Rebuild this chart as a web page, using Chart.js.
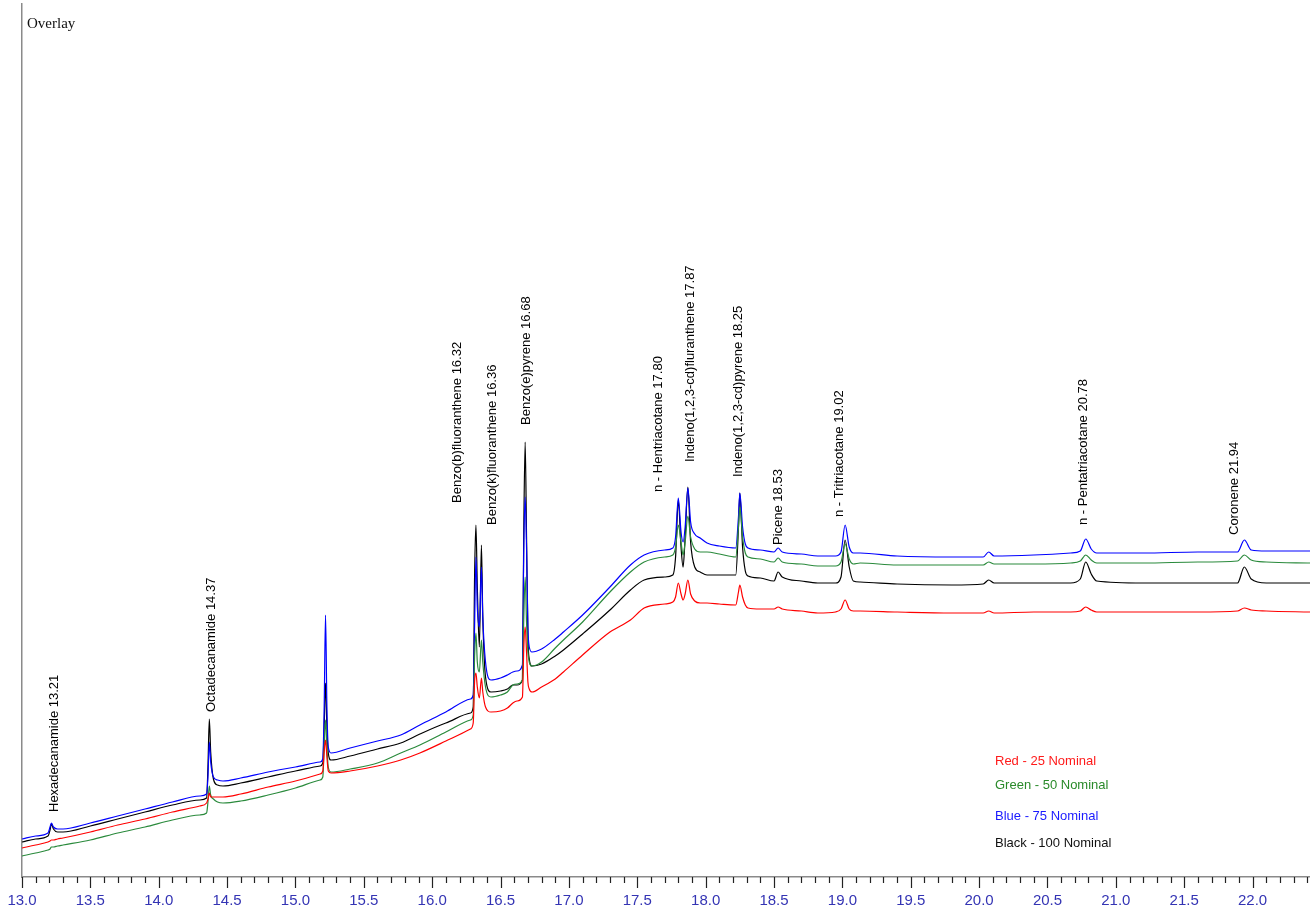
<!DOCTYPE html>
<html>
<head>
<meta charset="utf-8">
<title>Overlay</title>
<script src="https://cdn.jsdelivr.net/npm/chart.js@4.4.1/dist/chart.umd.min.js"></script>
<style>
  html, body { margin: 0; padding: 0; background: #ffffff; }
  canvas { display: block; }
</style>
</head>
<body>
<canvas id="chart" width="1310" height="912"></canvas>
<script>
// Retention time (min) shared by all four traces
const retentionTime = [
  13.00, 13.10, 13.19, 13.205, 13.215, 13.23, 13.26, 13.30,
  13.50, 13.70, 13.90, 14.10, 14.30, 14.35,
  14.36, 14.37, 14.38, 14.40, 14.43, 14.47,
  14.60, 14.80, 15.00, 15.18,
  15.20, 15.21, 15.22, 15.23, 15.24, 15.26,
  15.40, 15.60, 15.77, 15.91, 16.10, 16.28,
  16.30, 16.31, 16.32, 16.33, 16.345, 16.36, 16.37, 16.39, 16.43,
  16.50, 16.55, 16.59, 16.62, 16.66,
  16.67, 16.68, 16.69, 16.70, 16.71, 16.73,
  16.80, 16.90, 16.96, 17.10, 17.30, 17.45, 17.55, 17.70, 17.76,
  17.78, 17.80, 17.82, 17.835, 17.85, 17.87, 17.89, 17.92, 17.96, 18.01,
  18.10, 18.22, 18.24, 18.25, 18.27, 18.29, 18.31,
  18.40, 18.50, 18.53, 18.56, 18.70, 18.82,
  18.95, 18.99, 19.02, 19.05, 19.08, 19.13,
  19.40, 19.80, 20.03, 20.07, 20.11, 20.40,
  20.67, 20.74, 20.78, 20.82, 20.86,
  21.20, 21.60, 21.89, 21.94, 21.99, 22.10, 22.42
];

// Detector response, 25 nominal
const red25 = [
  29, 32, 35, 36, 37, 37, 38, 39,
  45, 52, 58, 65, 71, 74,
  78, 84, 80, 80, 80, 80,
  83, 90, 96, 103,
  106, 125, 137, 120, 106, 104,
  106, 111, 117, 124, 136, 148,
  154, 195, 204, 190, 179, 199, 185, 170, 165,
  166, 169, 174, 176, 180,
  230, 250, 225, 195, 188, 185,
  190, 198, 205, 222, 245, 257, 269, 273, 275,
  280, 294, 283, 277, 283, 297, 283, 276, 274, 274,
  273, 272, 285, 292, 280, 272, 269,
  268, 268, 270, 268, 266, 264,
  265, 268, 277, 268, 266, 266,
  265, 264, 264, 266, 264, 265,
  265, 266, 270, 267, 265,
  265, 265, 266, 269, 267, 266, 265
];

// Detector response, 50 nominal
const green50 = [
  21, 24, 27, 28, 30, 30, 31, 32,
  37, 44, 50, 57, 62, 64,
  75, 91, 82, 78, 75, 74,
  76, 82, 89, 97,
  100, 130, 157, 130, 110, 105,
  108, 114, 124, 132, 145, 157,
  162, 220, 244, 215, 205, 237, 215, 190, 180,
  182, 185, 192, 193, 197,
  260, 300, 255, 225, 215, 211,
  215, 229, 237, 255, 285, 305, 315, 320, 322,
  330, 352, 335, 322, 335, 361, 340, 328, 325, 325,
  323, 320, 350, 370, 340, 324, 320,
  318, 315, 319, 315, 313, 311,
  311, 315, 333, 318, 313, 314,
  312, 312, 312, 315, 313, 313,
  314, 316, 322, 317, 314,
  314, 315, 316, 322, 317, 315, 314
];

// Detector response, 75 nominal
const blue75 = [
  38, 41, 44, 50, 54, 50, 48, 48,
  54, 61, 68, 75, 81, 83,
  100, 135, 115, 100, 97, 96,
  99, 105, 110, 115,
  118, 170, 262, 170, 130, 124,
  129, 136, 142, 152, 165, 178,
  182, 250, 320, 270, 250, 310, 260, 215, 197,
  199, 202, 205, 206, 212,
  330, 380, 330, 250, 230, 225,
  228, 238, 245, 262, 290, 312, 322, 327, 329,
  340, 379, 345, 335, 350, 389, 355, 343, 339, 334,
  331, 329, 360, 384, 350, 333, 329,
  327, 325, 329, 325, 323, 321,
  321, 325, 352, 330, 324, 324,
  321, 320, 320, 325, 321, 322,
  324, 326, 338, 328, 324,
  324, 325, 325, 337, 327, 326, 326
];

// Detector response, 100 nominal
const black100 = [
  35, 38, 41, 47, 53, 48, 45, 45,
  51, 58, 65, 72, 77, 79,
  110, 158, 125, 98, 92, 91,
  94, 100, 106, 111,
  114, 150, 194, 150, 124, 117,
  121, 128, 134, 143, 154, 164,
  170, 300, 352, 290, 230, 332, 260, 200, 185,
  186, 188, 192, 192, 197,
  350, 435, 340, 240, 218, 211,
  213, 221, 227, 243, 267, 287, 297, 300, 302,
  320, 377, 330, 310, 340, 390, 335, 310, 305, 302,
  302, 302, 350, 384, 330, 306, 301,
  299, 296, 305, 300, 296, 294,
  294, 300, 337, 310, 296, 295,
  293, 292, 293, 297, 294, 294,
  294, 298, 315, 303, 296,
  294, 294, 294, 310, 298, 294, 294
];

// Identified compounds and their retention times
const peakNames = [
  'Hexadecanamide', 'Octadecanamide', 'Benzo(b)fluoranthene', 'Benzo(k)fluoranthene',
  'Benzo(e)pyrene', 'n - Hentriacotane', 'Indeno(1,2,3-cd)fluranthene',
  'Indeno(1,2,3-cd)pyrene', 'Picene', 'n - Tritriacotane', 'n - Pentatriacotane', 'Coronene'
];
const peakTimes = [13.21, 14.37, 16.32, 16.36, 16.68, 17.80, 17.87, 18.25, 18.53, 19.02, 20.78, 21.94];

// Legend entries
const legendTexts = ['Red - 25 Nominal', 'Green - 50 Nominal', 'Blue - 75 Nominal', 'Black - 100 Nominal'];

// Where each compound label starts (time, response) so labels sit clear of the traces
const labelAnchors = [
  [13.24, 65], [14.385, 165], [16.185, 374], [16.44, 352], [16.69, 452], [17.655, 385],
  [17.89, 415], [18.24, 400], [18.535, 332], [18.98, 360], [20.76, 352], [21.865, 342]
];

const traceColors = ['#ff0000', '#2a8a3c', '#0000ff', '#000000'];
const legendColors = ['#ff1a1a', '#2a8a2a', '#1a1aff', '#111111'];

function toPoints(values) {
  return retentionTime.map((t, i) => ({ x: t, y: values[i] }));
}

const whiteBackground = {
  id: 'whiteBackground',
  beforeDraw(chart) {
    const ctx = chart.ctx;
    ctx.save();
    ctx.fillStyle = '#ffffff';
    ctx.fillRect(0, 0, chart.width, chart.height);
    ctx.restore();
  }
};

// Minor (0.1 min) and major (0.5 min) tick marks below the time axis
const timeTicks = {
  id: 'timeTicks',
  afterDraw(chart) {
    const ctx = chart.ctx;
    const xs = chart.scales.x;
    const base = chart.chartArea.bottom;
    ctx.save();
    ctx.strokeStyle = '#222222';
    ctx.lineWidth = 1.2;
    for (let i = 0; i <= 94; i++) {
      const t = 13 + i * 0.1;
      const px = Math.round(xs.getPixelForValue(t)) + 0.5;
      const len = (i % 5 === 0) ? 11 : 6;
      ctx.beginPath();
      ctx.moveTo(px, base);
      ctx.lineTo(px, base + len);
      ctx.stroke();
    }
    ctx.restore();
  }
};

// Compound labels, title and colour legend
const annotations = {
  id: 'annotations',
  afterDraw(chart) {
    const ctx = chart.ctx;
    const xs = chart.scales.x;
    const ys = chart.scales.y;
    ctx.save();
    ctx.fillStyle = '#000000';
    ctx.font = '13px "Liberation Sans", Arial, sans-serif';
    ctx.textAlign = 'left';
    ctx.textBaseline = 'middle';
    peakNames.forEach((name, i) => {
      const [t, r] = labelAnchors[i];
      const px = xs.getPixelForValue(t);
      const py = ys.getPixelForValue(r);
      ctx.save();
      ctx.translate(px, py);
      ctx.rotate(-Math.PI / 2);
      ctx.fillText(name + ' ' + peakTimes[i].toFixed(2), 0, 0);
      ctx.restore();
    });

    ctx.font = '15px "Liberation Serif", "Times New Roman", serif';
    ctx.textBaseline = 'alphabetic';
    ctx.fillStyle = '#111111';
    ctx.fillText('Overlay', chart.chartArea.left + 5, 28);

    ctx.font = '13px "Liberation Sans", Arial, sans-serif';
    const legendY = [765, 789, 820, 847];
    legendTexts.forEach((txt, i) => {
      ctx.fillStyle = legendColors[i];
      ctx.fillText(txt, 995, legendY[i]);
    });
    ctx.restore();
  }
};

const seriesValues = [red25, green50, blue75, black100];

new Chart(document.getElementById('chart'), {
  type: 'line',
  data: {
    datasets: seriesValues.map((vals, i) => ({
      label: legendTexts[i],
      data: toPoints(vals),
      borderColor: traceColors[i],
      borderWidth: 1.2,
      pointRadius: 0,
      cubicInterpolationMode: 'monotone',
      fill: false
    }))
  },
  options: {
    responsive: false,
    animation: false,
    devicePixelRatio: 1,
    layout: { autoPadding: false, padding: { left: 22, right: 0, top: 4, bottom: 4 } },
    plugins: {
      legend: { display: false },
      tooltip: { enabled: false },
      title: { display: false }
    },
    scales: {
      x: {
        type: 'linear',
        min: 13,
        max: 22.42,
        position: 'bottom',
        border: { display: true, color: '#8a8a8a', width: 1.5 },
        grid: { display: false, drawOnChartArea: false, drawTicks: false },
        ticks: {
          stepSize: 0.5,
          includeBounds: false,
          autoSkip: false,
          maxRotation: 0,
          padding: 15,
          color: '#3434b4',
          font: { family: '"Liberation Sans", Arial, sans-serif', size: 15 },
          callback: (v) => Number(v).toFixed(1)
        },
        afterFit: (scale) => {
          scale.height = 31;
          scale.paddingLeft = 0;
          scale.paddingRight = 0;
        }
      },
      y: {
        type: 'linear',
        min: 0,
        max: 873,
        border: { display: true, color: '#8a8a8a', width: 1.5 },
        grid: { display: false, drawTicks: false },
        ticks: { display: false },
        afterFit: (scale) => { scale.width = 0; }
      }
    }
  },
  plugins: [whiteBackground, timeTicks, annotations]
});
</script>
</body>
</html>
